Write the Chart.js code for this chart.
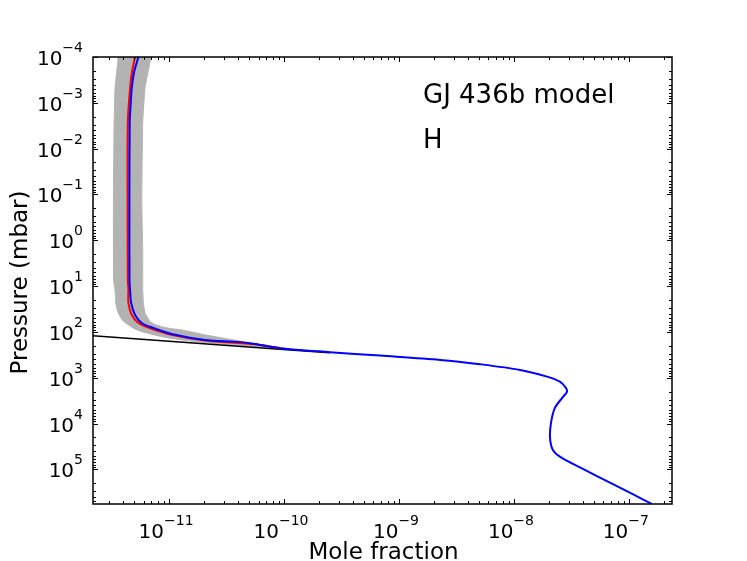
<!DOCTYPE html>
<html>
<head>
<meta charset="utf-8">
<title>GJ 436b model - H</title>
<script src="https://cdn.jsdelivr.net/npm/chart.js@4.4.1/dist/chart.umd.min.js"></script>
<style>
  html, body { margin: 0; padding: 0; background: #fff; }
  #wrap { width: 747px; height: 561px; }
</style>
</head>
<body>
<div id="wrap"><canvas id="profile" width="747" height="561"></canvas></div>
<script>
// values: mole fraction of H vs pressure (mbar)
const bluePressure = [1e-4, 2.12e-4, 4.74e-4, 1.11e-3, 2.62e-3, 0.132, 7.34, 12.1, 23.3, 42.6, 63.7, 81.8, 111, 150, 165, 183, 227, 277, 329, 408, 507, 676, 946, 1220, 1670, 2040, 2620, 4560, 9680, 2.06e4, 3.76e4, 5.62e4, 9.77e4, 1.95e5, 3.48e5, 5.66e5];
const blueFraction = [5.41e-12, 4.97e-12, 4.74e-12, 4.63e-12, 4.55e-12, 4.52e-12, 4.53e-12, 4.58e-12, 4.68e-12, 5.06e-12, 5.79e-12, 7.26e-12, 1.05e-11, 2.06e-11, 3.98e-11, 5.6e-11, 9.23e-11, 2.51e-10, 6.84e-10, 2.28e-9, 5.06e-9, 1.13e-8, 1.94e-8, 2.51e-8, 2.83e-8, 2.89e-8, 2.67e-8, 2.27e-8, 2.10e-8, 2.06e-8, 2.18e-8, 2.61e-8, 3.98e-8, 6.84e-8, 1.08e-7, 1.58e-7];

const redPressure = [1e-4, 2.12e-4, 4.74e-4, 2.62e-3, 0.132, 7.34, 12.1, 23.3, 42.6, 63.7, 86.1, 116, 154, 187, 230];
const redFraction = [5.06e-12, 4.76e-12, 4.58e-12, 4.38e-12, 4.36e-12, 4.38e-12, 4.43e-12, 4.43e-12, 4.74e-12, 5.41e-12, 7.08e-12, 1.05e-11, 2.06e-11, 5.6e-11, 9.23e-11];

const blackPressure = [120, 247, 284];
const blackFraction = [2e-12, 1.13e-10, 2.51e-10];

// grey envelope: left/lower edge going down, then right/upper edge going back up
const grayPressure = [1e-4, 4.74e-4, 2.62e-3, 0.132, 7.34, 12.1, 23.3, 34.8, 46.5, 59.0, 70.5, 84.8, 98.6, 127, 150, 171, 197, 235,
                      171, 143, 116, 90.6, 84.4, 76.7, 68.7, 59.7, 38.5, 23.3, 12.1, 1.63, 0.132, 2.62e-3, 4.74e-4, 1e-4];
const grayFraction = [3.62e-12, 3.39e-12, 3.33e-12, 3.28e-12, 3.29e-12, 3.39e-12, 3.44e-12, 3.56e-12, 3.75e-12, 4.02e-12, 4.43e-12, 4.97e-12, 5.79e-12, 8.65e-12, 1.29e-11, 2.06e-11, 4.14e-11, 1.13e-10,
                      4.86e-11, 3.26e-11, 2.06e-11, 1.29e-11, 1.03e-11, 8.65e-12, 7.55e-12, 6.84e-12, 6.18e-12, 5.98e-12, 5.90e-12, 5.90e-12, 5.79e-12, 5.90e-12, 6.18e-12, 6.97e-12];

const xTickExponents = [-11, -10, -9, -8, -7];
const yTickExponents = [-4, -3, -2, -1, 0, 1, 2, 3, 4, 5];

const X_MIN = 2.18e-12, X_MAX = 2.37e-7;
const Y_MIN = 1e-4, Y_MAX = 5.7e5;

const FONT = '"DejaVu Sans", "Liberation Sans", sans-serif';

function pairs(xs, ys) {
    return xs.map((v, i) => ({ x: v, y: ys[i] }));
}

function supText(n) {
    return n < 0 ? '\u2212' + Math.abs(n) : String(n);
}

// draws "10" with a raised exponent, left edge at x
function drawPower(ctx, exp, x, baseline) {
    ctx.font = '20px ' + FONT;
    const w10 = ctx.measureText('10').width;
    ctx.fillText('10', x, baseline);
    ctx.font = '14px ' + FONT;
    ctx.fillText(supText(exp), x + w10, baseline - 13);
}

function powerWidth(ctx, exp) {
    ctx.font = '20px ' + FONT;
    const w10 = ctx.measureText('10').width;
    ctx.font = '14px ' + FONT;
    return w10 + ctx.measureText(supText(exp)).width;
}

const axesPlugin = {
    id: 'mplAxes',
    afterDatasetsDraw(chart) {
        const { ctx, chartArea: a, scales: { x, y } } = chart;
        ctx.save();
        ctx.strokeStyle = '#000';
        ctx.fillStyle = '#000';
        ctx.lineWidth = 1;

        const tick = (x1, y1, x2, y2) => {
            ctx.beginPath();
            ctx.moveTo(x1, y1);
            ctx.lineTo(x2, y2);
            ctx.stroke();
        };

        // inward ticks on all four sides
        for (let e = -13; e <= -6; e++) {
            for (let k = 1; k <= 9; k++) {
                const v = k * Math.pow(10, e);
                if (v < X_MIN || v > X_MAX) continue;
                const px = Math.round(x.getPixelForValue(v)) + 0.5;
                const len = k === 1 ? 5 : 3;
                tick(px, a.bottom, px, a.bottom - len);
                tick(px, a.top, px, a.top + len);
            }
        }
        for (let e = -5; e <= 6; e++) {
            for (let k = 1; k <= 9; k++) {
                const v = k * Math.pow(10, e);
                if (v < Y_MIN || v > Y_MAX) continue;
                const py = Math.round(y.getPixelForValue(v)) + 0.5;
                const len = k === 1 ? 5 : 3;
                tick(a.left, py, a.left + len, py);
                tick(a.right, py, a.right - len, py);
            }
        }

        // frame
        ctx.lineWidth = 1.5;
        ctx.strokeRect(a.left, a.top, a.right - a.left, a.bottom - a.top);

        // tick labels
        ctx.textAlign = 'left';
        ctx.textBaseline = 'alphabetic';
        xTickExponents.forEach(e => {
            const px = x.getPixelForValue(Math.pow(10, e));
            const w = powerWidth(ctx, e);
            drawPower(ctx, e, px - w / 2 - 3, a.bottom + 34);
        });
        yTickExponents.forEach(e => {
            const py = y.getPixelForValue(Math.pow(10, e));
            const w = powerWidth(ctx, e);
            drawPower(ctx, e, a.left - 10 - w, py + 8);
        });

        // axis titles
        ctx.font = '23px ' + FONT;
        ctx.textAlign = 'center';
        ctx.fillText('Mole fraction', (a.left + a.right) / 2 + 1, 559);
        ctx.save();
        ctx.translate(26.5, (a.top + a.bottom) / 2 + 2);
        ctx.rotate(-Math.PI / 2);
        ctx.fillText('Pressure (mbar)', 0, 0);
        ctx.restore();

        // annotations
        ctx.font = '26px ' + FONT;
        ctx.textAlign = 'left';
        ctx.fillText('GJ 436b model', 423, 102.5);
        ctx.fillText('H', 423, 148);

        ctx.restore();
    }
};

new Chart(document.getElementById('profile'), {
    type: 'scatter',
    data: {
        datasets: [{
            label: 'H',
            data: pairs(blueFraction, bluePressure),
            showLine: true,
            borderColor: '#0000ff',
            borderWidth: 2,
            pointRadius: 0,
            tension: 0.3,
            clip: 0,
            order: 1
        }, {
            label: 'H (alt)',
            data: pairs(redFraction, redPressure),
            showLine: true,
            borderColor: '#ff0000',
            borderWidth: 2,
            pointRadius: 0,
            tension: 0.3,
            clip: 0,
            order: 2
        }, {
            label: 'initial',
            data: pairs(blackFraction, blackPressure),
            showLine: true,
            borderColor: '#000000',
            borderWidth: 1.5,
            pointRadius: 0,
            tension: 0,
            clip: 0,
            order: 3
        }, {
            label: 'envelope',
            data: pairs(grayFraction, grayPressure),
            showLine: true,
            borderColor: '#b3b3b3',
            backgroundColor: '#b3b3b3',
            borderWidth: 1,
            fill: 'shape',
            pointRadius: 0,
            tension: 0.1,
            clip: 0,
            order: 4
        }]
    },
    options: {
        responsive: false,
        animation: false,
        devicePixelRatio: 1,
        layout: { padding: { left: 93, top: 57, right: 75, bottom: 57 } },
        plugins: {
            legend: { display: false },
            tooltip: { enabled: false }
        },
        scales: {
            x: { type: 'logarithmic', min: X_MIN, max: X_MAX, display: false },
            y: { type: 'logarithmic', min: Y_MIN, max: Y_MAX, reverse: true, display: false }
        }
    },
    plugins: [axesPlugin]
});
</script>
</body>
</html>
